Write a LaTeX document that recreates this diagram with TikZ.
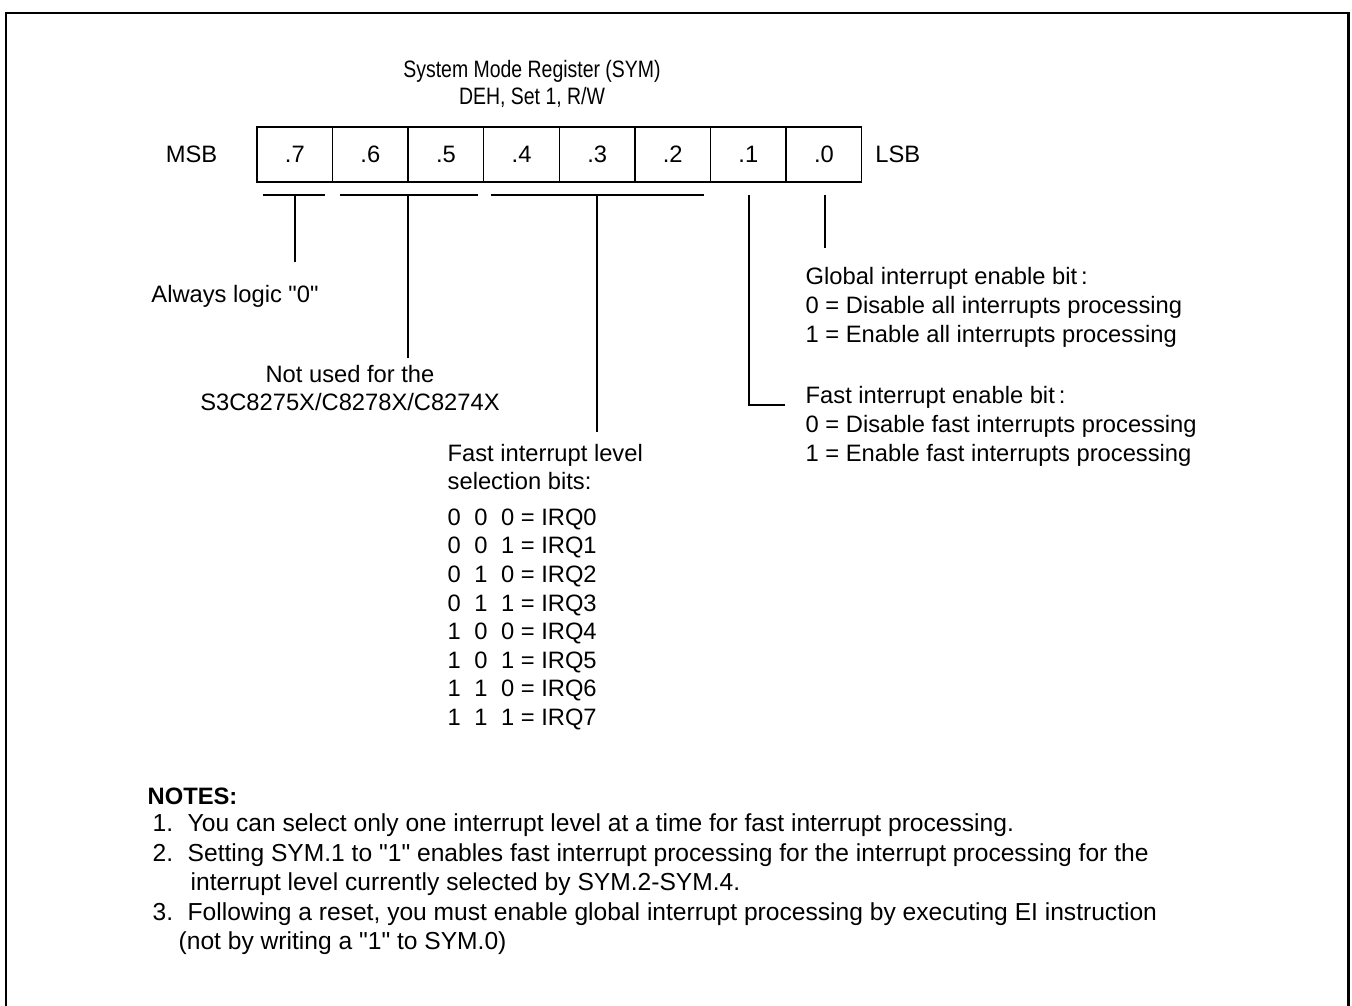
\documentclass[tikz,border=0pt]{standalone}
\usepackage{fontspec}
\newfontfamily\arial{Liberation Sans}
\newfontfamily\narrowfont[FakeStretch=0.82]{Liberation Sans}
\usetikzlibrary{positioning}

\begin{document}
\begin{tikzpicture}[x=0.02cm, y=-0.02cm, line width=0.8pt,
  every node/.style={inner sep=0pt, font=\arial\fontsize{13.5}{16.4}\selectfont},
  bitcell/.style={draw, outer sep=0pt, minimum width=1.512cm, minimum height=1.1cm},
  lbl/.style={anchor=base west, align=left},
  blk/.style={anchor=north west, align=left},
  note/.style={font=\arial\fontsize{14}{16.4}\selectfont}]
\path[use as bounding box] (0,0) rectangle (1352,1005);
\draw[line width=1.7pt] (6,1015) -- (6,13) -- (1348,13) -- (1348,1015);
% title
\node[font=\narrowfont\fontsize{13.5}{15.3}\selectfont, align=center, anchor=north] (title) at (532,60) {System Mode Register (SYM)\\DEH, Set 1, R/W};
% register
\node[bitcell] (b7) at (294.8,154.5) {.7};
\node[bitcell, right=0pt of b7] (b6) {.6};
\node[bitcell, right=0pt of b6] (b5) {.5};
\node[bitcell, right=0pt of b5] (b4) {.4};
\node[bitcell, right=0pt of b4] (b3) {.3};
\node[bitcell, right=0pt of b3] (b2) {.2};
\node[bitcell, right=0pt of b2] (b1) {.1};
\node[bitcell, right=0pt of b1] (b0) {.0};
\node[left=0.78cm of b7] (msb) {MSB};
\node[right=0.26cm of b0] (lsb) {LSB};
% brackets under the bits
\coordinate (a7) at (263,195); \coordinate (z7) at (325,195);
\coordinate (a65) at (340,195); \coordinate (z65) at (478,195);
\coordinate (a42) at (491,195); \coordinate (z42) at (704,195);
\coordinate (e7) at (295,262);
\coordinate (e65) at (408,358);
\coordinate (e42) at (597,432);
\coordinate (e1) at (749,405); \coordinate (k1) at (785,405);
\coordinate (e0) at (825,248);
\draw (a7) -- (z7);
\draw (a65) -- (z65);
\draw (a42) -- (z42);
\draw (e7 |- a7) -- (e7);
\draw (e65 |- a65) -- (e65);
\draw (e42 |- a42) -- (e42);
\draw (e1 |- a7) -- (e1) -- (k1);
\draw (e0 |- a7) -- (e0);
% descriptions
\node[anchor=base] (always) at (235,302) {Always logic "0"};
\node[align=center, anchor=north, font=\arial\fontsize{13.5}{15.9}\selectfont] (notused) at (350,365) {Not used for the\\S3C8275X/C8278X/C8274X};
\node[blk, font=\arial\fontsize{13.5}{15.9}\selectfont] (levelsel) at (447,444) {Fast interrupt level\\selection bits:};
\node[blk, font=\arial\fontsize{13.5}{16.27}\selectfont] (irqtab) at (447,508) {0\hspace{.57em}0\hspace{.57em}0 = IRQ0\\0\hspace{.57em}0\hspace{.57em}1 = IRQ1\\0\hspace{.57em}1\hspace{.57em}0 = IRQ2\\0\hspace{.57em}1\hspace{.57em}1 = IRQ3\\1\hspace{.57em}0\hspace{.57em}0 = IRQ4\\1\hspace{.57em}0\hspace{.57em}1 = IRQ5\\1\hspace{.57em}1\hspace{.57em}0 = IRQ6\\1\hspace{.57em}1\hspace{.57em}1 = IRQ7};
\node[blk] (global) at (805,267) {Global interrupt enable bit\,:\\0 = Disable all interrupts processing\\1 = Enable all interrupts processing};
\node[blk] (fastbit) at (805,386) {Fast interrupt enable bit\,:\\0 = Disable fast interrupts processing\\1 = Enable fast interrupts processing};
% notes
\node[lbl] (notes) at (147,804) {\bfseries NOTES:};
\node[lbl, note] (n1) at (152,831) {1.};
\node[lbl, note] (n1t) at (187,831) {You can select only one interrupt level at a time for fast interrupt processing.};
\node[lbl, note] (n2) at (152,861.5) {2.};
\node[blk, note] (n2t) at (187,843) {Setting SYM.1 to "1" enables fast interrupt processing for the interrupt processing for the\\\hspace*{0.06cm}interrupt level currently selected by SYM.2-SYM.4.};
\node[lbl, note] (n3) at (152,920.5) {3.};
\node[blk, note] (n3t) at (178,902) {\hspace*{0.18cm}Following a reset, you must enable global interrupt processing by executing EI instruction\\(not by writing a "1" to SYM.0)};
\end{tikzpicture}
\end{document}
